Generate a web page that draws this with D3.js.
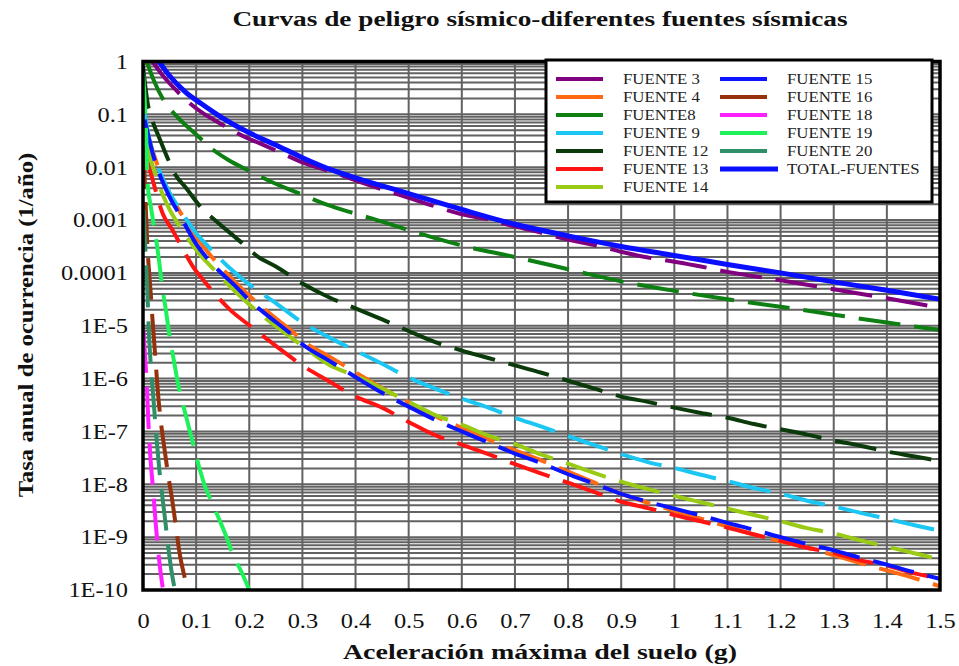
<!DOCTYPE html>
<html>
<head>
<meta charset="utf-8">
<script src="https://cdn.jsdelivr.net/npm/d3@7"></script>
<style>
  html, body { margin: 0; padding: 0; background: #fff; }
  svg { display: block; font-family: "Liberation Serif", "Times New Roman", serif; }
</style>
</head>
<body>
<svg id="chart" width="959" height="666"></svg>
<script>
// Peak ground acceleration (g) and log10 of annual exceedance rate, per seismic source.
const pgaF3  = [0.018,0.04,0.06,0.08,0.11,0.15,0.19,0.22,0.26,0.3,0.36,0.4,0.45,0.5,0.54,0.6,0.65,0.7,0.75,0.8,0.86,0.9,0.94,1.0,1.05,1.1,1.2,1.3,1.4,1.5];
const expF3  = [0,-0.3,-0.52,-0.72,-0.96,-1.2,-1.42,-1.55,-1.73,-1.91,-2.1,-2.25,-2.42,-2.58,-2.71,-2.89,-2.99,-3.12,-3.24,-3.37,-3.5,-3.6,-3.69,-3.79,-3.88,-3.98,-4.14,-4.31,-4.48,-4.66];

const pgaF4  = [0.003,0.02,0.047,0.07,0.1,0.14,0.173,0.2,0.24,0.28,0.3,0.35,0.4,0.45,0.5,0.55,0.6,0.65,0.7,0.75,0.8,0.85,0.9,0.95,1.0,1.05,1.1,1.15,1.2,1.25,1.3,1.35,1.4,1.45,1.5];
const expF4  = [-1.2,-1.75,-2.44,-2.85,-3.32,-3.82,-4.17,-4.43,-4.78,-5.1,-5.28,-5.58,-5.88,-6.18,-6.45,-6.71,-6.93,-7.15,-7.36,-7.55,-7.76,-7.97,-8.18,-8.35,-8.5,-8.65,-8.8,-8.95,-9.08,-9.2,-9.34,-9.49,-9.63,-9.77,-9.93];

const pgaF8  = [0.007,0.02,0.038,0.06,0.1,0.132,0.16,0.2,0.24,0.3,0.346,0.4,0.45,0.5,0.6,0.7,0.8,0.9,1.0,1.1,1.2,1.3,1.4,1.5];
const expF8  = [0,-0.35,-0.72,-1.0,-1.38,-1.67,-1.86,-2.07,-2.27,-2.52,-2.71,-2.88,-3.03,-3.19,-3.48,-3.7,-3.93,-4.16,-4.34,-4.5,-4.64,-4.79,-4.94,-5.08];

const pgaF9  = [0.003,0.015,0.03,0.05,0.075,0.1,0.12,0.16,0.2,0.25,0.3,0.35,0.4,0.45,0.5,0.55,0.6,0.65,0.7,0.75,0.8,0.85,0.9,0.95,1.0,1.05,1.1,1.15,1.2,1.25,1.3,1.35,1.4,1.45,1.5];
const expF9  = [-1.0,-1.6,-2.05,-2.48,-2.88,-3.25,-3.47,-3.88,-4.22,-4.57,-4.94,-5.22,-5.47,-5.72,-5.98,-6.19,-6.38,-6.55,-6.74,-6.91,-7.09,-7.26,-7.43,-7.58,-7.69,-7.82,-7.94,-8.07,-8.18,-8.31,-8.42,-8.54,-8.65,-8.77,-8.88];

const pgaF12 = [0,0.004,0.009,0.017,0.03,0.045,0.06,0.08,0.11,0.14,0.18,0.216,0.25,0.3,0.35,0.4,0.45,0.5,0.55,0.6,0.65,0.7,0.75,0.8,0.85,0.9,0.95,1.0,1.05,1.1,1.15,1.2,1.25,1.3,1.35,1.4,1.45,1.5];
const expF12 = [-0.1,-0.44,-0.8,-1.1,-1.43,-1.8,-2.13,-2.38,-2.77,-3.04,-3.38,-3.69,-3.88,-4.2,-4.46,-4.67,-4.88,-5.1,-5.31,-5.47,-5.61,-5.75,-5.89,-6.04,-6.19,-6.34,-6.44,-6.55,-6.65,-6.74,-6.86,-6.96,-7.06,-7.17,-7.27,-7.38,-7.47,-7.56];

const pgaF13 = [0.003,0.017,0.038,0.055,0.075,0.094,0.113,0.14,0.164,0.2,0.25,0.3,0.35,0.4,0.45,0.5,0.55,0.6,0.65,0.7,0.75,0.8,0.85,0.9,0.95,1.0,1.05,1.1,1.15,1.2,1.25,1.3,1.35,1.4,1.45,1.5];
const expF13 = [-1.7,-2.2,-2.9,-3.18,-3.55,-3.88,-4.13,-4.45,-4.7,-4.99,-5.38,-5.75,-6.05,-6.34,-6.55,-6.82,-7.07,-7.25,-7.43,-7.62,-7.8,-7.97,-8.15,-8.33,-8.45,-8.58,-8.7,-8.82,-8.95,-9.07,-9.2,-9.3,-9.44,-9.54,-9.68,-9.78];

const pgaF14 = [0.003,0.019,0.045,0.073,0.107,0.13,0.165,0.2,0.25,0.3,0.35,0.4,0.45,0.5,0.55,0.6,0.65,0.7,0.75,0.8,0.85,0.9,0.95,1.0,1.05,1.1,1.15,1.2,1.25,1.3,1.35,1.4,1.45,1.5];
const expF14 = [-1.4,-2.0,-2.7,-3.18,-3.65,-3.9,-4.27,-4.6,-5.01,-5.38,-5.74,-5.95,-6.19,-6.44,-6.69,-6.87,-7.08,-7.24,-7.44,-7.61,-7.79,-7.95,-8.09,-8.22,-8.34,-8.46,-8.58,-8.7,-8.83,-8.93,-9.06,-9.18,-9.3,-9.42];

const pgaF15 = [0.003,0.02,0.047,0.07,0.1,0.14,0.173,0.2,0.24,0.28,0.3,0.35,0.4,0.45,0.5,0.55,0.6,0.65,0.7,0.75,0.8,0.85,0.9,0.95,1.0,1.05,1.1,1.15,1.2,1.25,1.3,1.35,1.4,1.45,1.5];
const expF15 = [-1.1,-1.8,-2.5,-2.92,-3.45,-3.93,-4.24,-4.52,-4.85,-5.17,-5.35,-5.66,-5.97,-6.27,-6.53,-6.78,-7.0,-7.21,-7.42,-7.6,-7.81,-7.99,-8.18,-8.33,-8.46,-8.59,-8.73,-8.86,-9.0,-9.13,-9.25,-9.39,-9.52,-9.66,-9.79];

const pgaF16 = [0.001,0.003,0.005,0.008,0.012,0.015,0.018,0.021,0.025,0.028,0.034,0.04,0.047,0.055,0.062,0.068,0.077,0.085];
const expF16 = [-1.6,-2.2,-2.7,-3.45,-4.05,-4.45,-4.9,-5.3,-5.85,-6.25,-6.85,-7.3,-7.8,-8.3,-8.8,-9.25,-9.7,-10];

const pgaF18 = [0.001,0.004,0.007,0.01,0.014,0.019,0.024,0.03,0.037];
const expF18 = [-5.1,-5.6,-6.1,-6.8,-7.5,-8.1,-8.75,-9.4,-9.95];

const pgaF19 = [0,0.003,0.006,0.009,0.014,0.018,0.023,0.03,0.036,0.043,0.05,0.058,0.066,0.073,0.082,0.092,0.105,0.117,0.13,0.145,0.158,0.17,0.185,0.2];
const expF19 = [-0.2,-0.7,-1.4,-2.35,-2.7,-2.95,-3.25,-3.75,-4.25,-4.7,-5.2,-5.65,-6.1,-6.4,-6.75,-7.15,-7.65,-8.05,-8.35,-8.7,-9.02,-9.35,-9.65,-10];

const pgaF20 = [0.001,0.004,0.008,0.011,0.015,0.019,0.026,0.031,0.036,0.042,0.047,0.053,0.06];
const expF20 = [-2.8,-3.45,-4.3,-5.1,-5.8,-6.3,-7.2,-7.75,-8.2,-8.7,-9.15,-9.6,-10];

const pgaTotal = [0.03,0.05,0.08,0.11,0.15,0.2,0.25,0.3,0.36,0.4,0.5,0.6,0.7,0.8,0.9,1.0,1.1,1.2,1.3,1.4,1.5];
const expTotal = [0,-0.27,-0.58,-0.8,-1.07,-1.35,-1.58,-1.82,-2.07,-2.2,-2.5,-2.8,-3.08,-3.3,-3.5,-3.67,-3.84,-4.0,-4.17,-4.33,-4.5];

const seriesNames = ["FUENTE 3","FUENTE 4","FUENTE8","FUENTE 9","FUENTE 12","FUENTE 13","FUENTE 14",
                     "FUENTE 15","FUENTE 16","FUENTE 18","FUENTE 19","FUENTE 20","TOTAL-FUENTES"];
const seriesPga = [pgaF3,pgaF4,pgaF8,pgaF9,pgaF12,pgaF13,pgaF14,pgaF15,pgaF16,pgaF18,pgaF19,pgaF20,pgaTotal];
const seriesExp = [expF3,expF4,expF8,expF9,expF12,expF13,expF14,expF15,expF16,expF18,expF19,expF20,expTotal];

const xTicks = [0,0.1,0.2,0.3,0.4,0.5,0.6,0.7,0.8,0.9,1,1.1,1.2,1.3,1.4,1.5];
const yTicks = [1,1e-1,1e-2,1e-3,1e-4,1e-5,1e-6,1e-7,1e-8,1e-9,1e-10];
const yTickLabels = ["1","0.1","0.01","0.001","0.0001","1E-5","1E-6","1E-7","1E-8","1E-9","1E-10"];

// Line styles
const colors = ["#800080","#ff6a12","#0e7f12","#1cc6f2","#0b3a0b","#ff1414","#9acb14",
                "#0a14ff","#95320d","#ff1eff","#1ef25a","#2f8f68","#0a10ff"];
const DASH = "42,14";

const svg = d3.select("#chart");
const L = 143, R = 940, T = 61.5, B = 590;

const x = d3.scaleLinear().domain([0, 1.5]).range([L, R]);
const y = d3.scaleLog().domain([1e-10, 1]).range([B, T]);

const data = seriesNames.map((name, i) => ({
  name,
  color: colors[i],
  total: i === seriesNames.length - 1,
  points: seriesPga[i].map((g, j) => ({ g, rate: Math.pow(10, seriesExp[i][j]) }))
}));

// Grid
const grid = svg.append("g").attr("stroke", "#626262").attr("stroke-width", 2);
grid.selectAll("line.h").data(y.ticks(90)).join("line")
  .attr("class", "h")
  .attr("x1", L).attr("x2", R)
  .attr("y1", d => y(d)).attr("y2", d => y(d));
grid.selectAll("line.v").data(xTicks.slice(1, -1)).join("line")
  .attr("class", "v")
  .attr("x1", d => x(d)).attr("x2", d => x(d))
  .attr("y1", T).attr("y2", B);

// Curves
svg.append("defs").append("clipPath").attr("id", "plotClip")
  .append("rect").attr("x", L).attr("y", T).attr("width", R - L).attr("height", B - T);

const line = d3.line()
  .x(d => x(d.g))
  .y(d => y(d.rate))
  .curve(d3.curveMonotoneX);

svg.append("g").attr("clip-path", "url(#plotClip)")
  .selectAll("path").data(data).join("path")
  .attr("d", d => line(d.points))
  .attr("fill", "none")
  .attr("stroke", d => d.color)
  .attr("stroke-width", d => d.total ? 5 : 4)
  .attr("stroke-dasharray", d => d.total ? null : DASH);

// Frame
svg.append("rect")
  .attr("x", L).attr("y", T).attr("width", R - L).attr("height", B - T)
  .attr("fill", "none").attr("stroke", "#000").attr("stroke-width", 3.5);

// Axes
const STRETCH = 1.22;
const yAxis = svg.append("g")
  .attr("transform", `translate(${L},0)`)
  .call(d3.axisLeft(y).tickValues(yTicks).tickFormat((d, i) => yTickLabels[i]).tickSize(0));
yAxis.select(".domain").remove();
yAxis.selectAll("text")
  .attr("x", null).attr("dy", "0.34em")
  .attr("transform", `translate(-15,0) scale(${STRETCH},1)`)
  .attr("font-family", "Liberation Serif, serif")
  .attr("font-size", 20).attr("fill", "#111");

const xAxis = svg.append("g")
  .attr("transform", `translate(0,${B})`)
  .call(d3.axisBottom(x).tickValues(xTicks).tickFormat(d3.format("~g")).tickSize(0));
xAxis.select(".domain").remove();
xAxis.selectAll("text")
  .attr("y", null).attr("dy", "0.34em")
  .attr("transform", `translate(0,31) scale(${STRETCH},1)`)
  .attr("font-family", "Liberation Serif, serif")
  .attr("font-size", 20).attr("fill", "#111");

// Titles
function boldText(tx, ty, txt, size, sx, rotate) {
  svg.append("text")
    .attr("transform", `translate(${tx},${ty})${rotate ? " rotate(-90)" : ""} scale(${sx},1)`)
    .attr("text-anchor", "middle").attr("dy", "0.35em")
    .attr("font-weight", "bold").attr("font-size", size).attr("fill", "#111")
    .text(txt);
}
boldText(540, 19, "Curvas de peligro sísmico-diferentes fuentes sísmicas", 21, 1.3, false);
boldText(540, 651, "Aceleración máxima del suelo (g)", 21.5, 1.3, false);
boldText(25, 325, "Tasa anual de ocurrencia (1/año)", 21.5, 1.15, true);

// Legend
const leg = svg.append("g");
leg.append("rect")
  .attr("x", 546).attr("y", 60).attr("width", 386).attr("height", 142)
  .attr("fill", "#fff").attr("stroke", "#000").attr("stroke-width", 3);

const items = leg.selectAll("g.item").data(data).join("g")
  .attr("class", "item")
  .attr("transform", (d, i) => {
    const col = i < 7 ? 0 : 1;
    const row = i < 7 ? i : i - 7;
    return `translate(${col ? 720 : 556},${79 + row * 18})`;
  });
items.append("line")
  .attr("x1", 0).attr("x2", d => d.total ? 58 : 47)
  .attr("y1", 0).attr("y2", 0)
  .attr("stroke", d => d.color)
  .attr("stroke-width", d => d.total ? 5 : 4);
items.append("text")
  .attr("transform", "translate(67,0) scale(1.12,1)")
  .attr("dy", "0.35em")
  .attr("font-size", 15).attr("fill", "#222")
  .text(d => d.name);
</script>
</body>
</html>
